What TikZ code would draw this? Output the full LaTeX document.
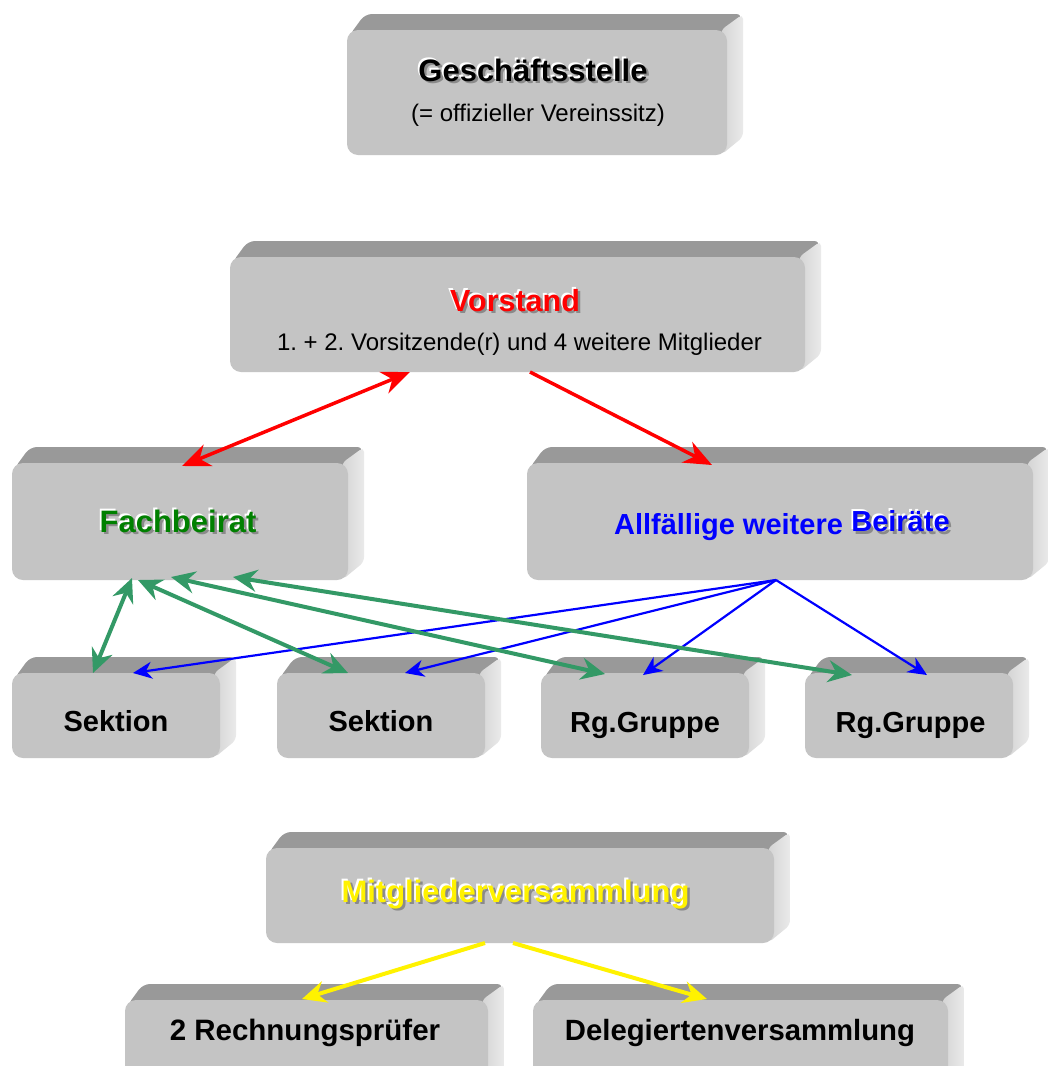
\documentclass[tikz,border=0pt]{standalone}
\usepackage{fontspec}
\setmainfont{Liberation Sans}
\usetikzlibrary{arrows.meta,calc}
\definecolor{frontc}{HTML}{C4C4C4}
\definecolor{topc}{HTML}{999999}
\definecolor{sidec}{HTML}{EAEAEA}
\definecolor{sidedark}{HTML}{D4D4D4}
\definecolor{grnarr}{HTML}{339966}
\definecolor{grntxt}{HTML}{008000}
\definecolor{shadowc}{HTML}{8A8A8A}
\frenchspacing
\newcommand\myfs[1]{\fontsize{#1}{#1}\selectfont}
% #1 name, #2 x1, #3 y1, #4 x2, #5 y2 (front face, y downwards)
\newcommand\cubebox[5]{%
  \fill[topc, rounded corners=7pt] ({#2+2},{#3+6}) -- ({#2+18},{#3-16}) -- ({#4+16},{#3-16}) -- ({#4+2},{#3+6}) -- cycle;
  \shade[left color=sidedark, right color=sidec, rounded corners=5pt] ({#4-6},{#3}) -- ({#4+16},{#3-16}) -- ({#4+16},{#5-18}) -- ({#4-6},{#5}) -- cycle;
  \node[frontbox, minimum width={#4-#2}, minimum height={#5-#3}] (#1) at ({(#2+#4)/2},{(#3+#5)/2}) {};
}
% #1 name, #2 x, #3 y (baseline), #4 colour, #5 text
\newcommand\shtext[5]{%
  \node[lbl, text=shadowc] at ({#2+2.5},{#3+2.5}) {#5};
  \node[lbl, text=white] at ({#2-1.8},{#3-1.8}) {#5};
  \node[lbl, text=#4] (#1) at (#2,#3) {#5};
}
\tikzset{
  frontbox/.style={fill=frontc, rounded corners=11pt, inner sep=0pt, outer sep=0pt, draw=none},
  lbl/.style={anchor=base, inner sep=0pt, outer sep=0pt},
  Rt/.tip={Stealth[length=28pt,width=23pt,inset=9pt]},
  Gt/.tip={Stealth[length=24pt,width=22pt,inset=8pt]},
  Bt/.tip={Stealth[length=19pt,width=17pt,inset=6pt]},
  Yt/.tip={Stealth[length=24pt,width=22pt,inset=8pt]},
  redline/.style={draw=red, line width=3.5pt},
  grnline/.style={draw=grnarr, line width=4pt},
  bluline/.style={draw=blue, line width=2.2pt},
  yelline/.style={draw=yellow, line width=4pt},
}
\begin{document}
\begin{tikzpicture}[x=1pt, y=-1pt]
\useasboundingbox (0,0) rectangle (1048,1066);
\clip (0,0) rectangle (1048,1066);
\fill[white] (0,0) rectangle (1048,1066);

% boxes
\cubebox{ges}{347}{30}{727}{155}
\cubebox{vor}{230}{257}{805}{372}
\cubebox{fach}{12}{463}{348}{580}
\cubebox{allf}{527}{463}{1033}{580}
\cubebox{sek1}{12}{673}{220}{758}
\cubebox{sek2}{277}{673}{485}{758}
\cubebox{rg1}{541}{673}{749}{758}
\cubebox{rg2}{805}{673}{1013}{758}
\cubebox{mit}{266}{848}{774}{943}
\cubebox{rech}{125}{1000}{488}{1090}
\cubebox{dele}{533}{1000}{948}{1090}

% red connectors
\draw[redline, Rt-Rt] ([xshift=-107.5pt]vor.south) -- ([xshift=2pt,yshift=-3pt]fach.north);
\draw[redline, -Rt] ([xshift=12.5pt]vor.south) -- ([xshift=-68pt,yshift=-2pt]allf.north);

% blue connectors
\draw[bluline, -Bt] ([xshift=-4pt]allf.south) -- ([xshift=17pt]sek1.north);
\draw[bluline, -Bt] ([xshift=-4pt]allf.south) -- ([xshift=24pt]sek2.north);
\draw[bluline, -Bt] ([xshift=-4pt]allf.south) -- ([xshift=-2pt,yshift=-2pt]rg1.north);
\draw[bluline, -Bt] ([xshift=-4pt]allf.south) -- ([xshift=18pt,yshift=-2pt]rg2.north);

% green connectors
\draw[grnline, Gt-Gt] ([xshift=-48pt,yshift=2pt]fach.south) -- ([xshift=-23pt]sek1.north);
\draw[grnline, Gt-Gt] ([xshift=-42pt]fach.south) -- ([xshift=-33pt]sek2.north);
\draw[grnline, Gt-Gt] ([xshift=-9pt,yshift=3pt]fach.south) -- ([xshift=-40pt,yshift=-1pt]rg1.north);
\draw[grnline, Gt-Gt] ([xshift=53pt,yshift=3pt]fach.south) -- ([xshift=-57pt,yshift=-2pt]rg2.north);

% yellow connectors
\draw[yelline, -Yt] ([xshift=-35pt]mit.south) -- ([xshift=-4.5pt,yshift=1pt]rech.north);
\draw[yelline, -Yt] ([xshift=-7pt]mit.south) -- ([xshift=-33.5pt,yshift=1pt]dele.north);

% texts
\shtext{tges}{533}{81}{black}{\myfs{31}\bfseries Geschäftsstelle}
\node[lbl] (tges2) at (538,121) {\myfs{24}(= offizieller Vereinssitz)};
\shtext{tvor}{515}{311}{red}{\myfs{30.5}\bfseries Vorstand}
\node[lbl] (tvor2) at (519.5,350) {\myfs{24}1. + 2. Vorsitzende(r) und 4 weitere Mitglieder};
\shtext{tfach}{178}{532}{grntxt}{\myfs{31}\bfseries Fachbeirat}
\node[lbl, text=blue] (tallf) at (728.5,534) {\myfs{29}\bfseries Allfällige weitere};
\shtext{tbei}{900.5}{531.5}{blue}{\myfs{29}\bfseries Beiräte}
\node[lbl] (tsek1) at (116,731) {\myfs{29}\bfseries Sektion};
\node[lbl] (tsek2) at (381,731) {\myfs{29}\bfseries Sektion};
\node[lbl] (trg1) at (645,732) {\myfs{29}\bfseries Rg.Gruppe};
\node[lbl] (trg2) at (910.5,732) {\myfs{29}\bfseries Rg.Gruppe};
\shtext{tmit}{515.5}{902}{yellow}{\myfs{31}\bfseries Mitgliederversammlung}
\node[lbl] (trech) at (305,1040) {\myfs{29.5}\bfseries 2 Rechnungsprüfer};
\node[lbl] (tdele) at (740,1040) {\myfs{29.3}\bfseries Delegiertenversammlung};
\end{tikzpicture}
\end{document}
